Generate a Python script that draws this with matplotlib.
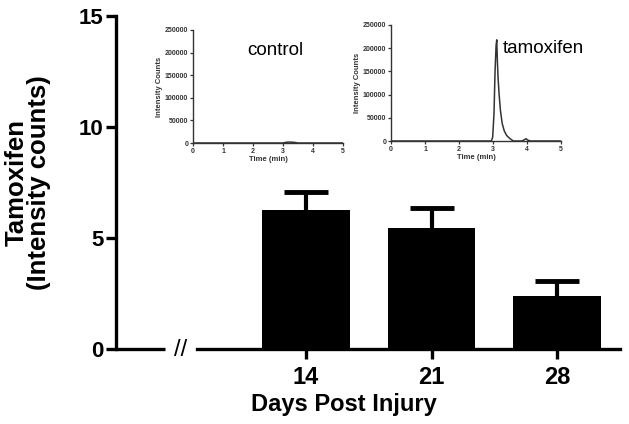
# -*- coding: utf-8 -*-
"""
Tamoxifen intensity counts per day post injury, with LC-MS inset traces
"""

import numpy as np
import matplotlib
matplotlib.use('Agg')
import matplotlib.pyplot as plt

plt.rcParams['font.family'] = ['Liberation Sans', 'DejaVu Sans']

#%% Data

days = ['14', '21', '28']
tamox_mean = [6.25, 5.45, 2.4]
tamox_err = [0.8, 0.9, 0.68]

# inset chromatograms (time in min, intensity counts)
ctrl_time = [0, 3.0, 3.1, 3.2, 3.3, 3.4, 3.5, 5]
ctrl_counts = [0, 0, 1500, 2000, 1800, 1200, 0, 0]

tam_time = [0, 2.95, 2.99, 3.03, 3.06, 3.09, 3.11, 3.13, 3.15, 3.18, 3.22,
            3.27, 3.33, 3.4, 3.5, 3.6, 3.85, 3.93, 3.97, 4.02, 4.1, 5]
tam_counts = [0, 0, 8000, 60000, 150000, 205000, 218000, 170000, 135000,
              100000, 65000, 38000, 22000, 12000, 5000, 0, 0, 3000, 5000,
              2000, 0, 0]

#%% Main figure

fig = plt.figure(figsize=(6.29, 4.24), dpi=100)
ax = fig.add_axes([116/629, 1 - 349/424, (620-116)/629, (349-16)/424])

x = np.arange(len(days))
ax.bar(x, tamox_mean, width=0.7, color='black', zorder=3)
eb = ax.errorbar(x, tamox_mean, yerr=[np.zeros(3), tamox_err], fmt='none',
                 ecolor='black', elinewidth=3, capsize=16, capthick=3.5,
                 zorder=2)
eb[1][0].set_visible(False)                                     # no cap at bar top

ax.set_xlim(-1.514, 2.502)
ax.set_ylim(0, 15)
ax.set_yticks([0, 5, 10, 15])
ax.set_xticks(x)
ax.set_xticklabels(days)

for s in ['top', 'right']:
    ax.spines[s].set_visible(False)
ax.spines['left'].set_linewidth(2.4)
ax.spines['bottom'].set_linewidth(2.4)
ax.spines['bottom'].set_bounds(-0.869, 2.502)
# left piece of the broken x axis
ax.plot([-1.514, -1.124], [0, 0], color='black', lw=2.4, clip_on=False,
        solid_capstyle='butt')
ax.text(-1.0, -0.05, '//', ha='center', va='center', fontsize=17)

ax.tick_params(axis='both', direction='out', length=7.5, width=2.4)
ax.tick_params(axis='y', labelsize=16, pad=1.5)
ax.tick_params(axis='x', labelsize=17, pad=5)
for lab in ax.get_xticklabels() + ax.get_yticklabels():
    lab.set_fontweight('bold')

ax.set_xlabel('Days Post Injury', fontsize=17, fontweight='bold')
ax.xaxis.set_label_coords(0.452, -0.132)
ax.set_ylabel('Tamoxifen\n(Intensity counts)', fontsize=18.5,
              fontweight='bold', linespacing=0.95)
ax.yaxis.set_label_coords(-0.128, 0.5)

#%% Insets

def inset(rect, t, c, label, lx, ly):
    a = fig.add_axes(rect)
    a.plot(t, c, color='#333333', lw=1.1)
    a.set_xlim(0, 5)
    a.set_ylim(0, 250000)
    a.set_xticks([0, 1, 2, 3, 4, 5])
    a.set_yticks([0, 50000, 100000, 150000, 200000, 250000])
    for s in ['top', 'right']:
        a.spines[s].set_visible(False)
    for s in ['left', 'bottom']:
        a.spines[s].set_linewidth(1.0)
        a.spines[s].set_color('#333333')
    a.tick_params(labelsize=5, length=2.5, width=0.9, pad=1, colors='#333333')
    for lab in a.get_xticklabels() + a.get_yticklabels():
        lab.set_fontweight('bold')
    a.set_xlabel('Time (min)', fontsize=5.5, labelpad=1, color='#333333',
                 fontweight='bold')
    a.set_ylabel('Intensity Counts', fontsize=5.5, labelpad=1,
                 color='#333333', fontweight='bold')
    a.patch.set_alpha(0)
    a.text(lx, ly, label, transform=a.transAxes, fontsize=13.5, ha='left',
           va='center')
    return a

inset([193/629, 1 - 143/424, 150/629, 113/424], ctrl_time, ctrl_counts,
      'control', 0.36, 0.82)
inset([391/629, 1 - 141/424, 170/629, 116/424], tam_time, tam_counts,
      'tamoxifen', 0.66, 0.8)

fig.savefig('out.png', dpi=100)
